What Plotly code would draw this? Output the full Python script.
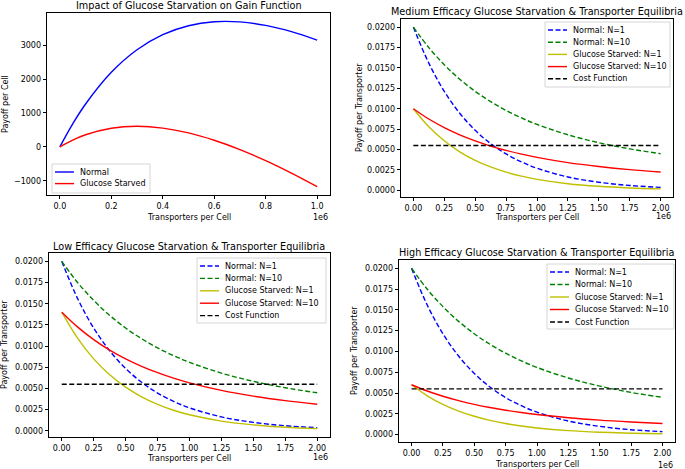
import plotly.graph_objects as go

# ---------------- data ----------------
# Panel 1: gain function (x in units of 1e6 transporters per cell)
gain_x = [0, 0.05, 0.1, 0.2, 0.3, 0.4, 0.5, 0.6, 0.7, 0.8, 0.9, 1.0]
gain_normal = [0, 677, 1263, 2197, 2862, 3307, 3571, 3688, 3684, 3581, 3397, 3147]
gain_starved = [0, 201, 356, 548, 606, 553, 411, 194, -83, -409, -777, -1177]

# Panels 2-4: payoff per transporter (x in units of 1e6)
eq_x = [0, 0.125, 0.25, 0.375, 0.5, 0.625, 0.75, 0.875, 1.0, 1.25, 1.5, 1.75, 2.0]
normal_n1 = [0.02, 0.01558, 0.01213, 0.00945, 0.00736, 0.00573, 0.00446, 0.00348,
             0.00271, 0.00164, 0.00100, 0.00060, 0.00037]
normal_n10 = [0.02, 0.01748, 0.01539, 0.01362, 0.01213, 0.01087, 0.00979, 0.00887,
              0.00808, 0.00681, 0.00584, 0.00508, 0.00449]

medium_n1 = [0.01, 0.00779, 0.00607, 0.00472, 0.00368, 0.00287, 0.00223, 0.00174,
             0.00135, 0.00082, 0.00050, 0.00030, 0.00018]
medium_n10 = [0.01, 0.00874, 0.00769, 0.00681, 0.00607, 0.00543, 0.00490, 0.00444,
              0.00404, 0.00340, 0.00292, 0.00254, 0.00225]

low_n1 = [0.014, 0.01090, 0.00849, 0.00661, 0.00515, 0.00401, 0.00312, 0.00243,
          0.00189, 0.00115, 0.00070, 0.00042, 0.00026]
low_n10 = [0.014, 0.01224, 0.01077, 0.00953, 0.00849, 0.00761, 0.00686, 0.00621,
           0.00566, 0.00477, 0.00409, 0.00356, 0.00314]

high_n1 = [0.006, 0.00467, 0.00364, 0.00283, 0.00221, 0.00172, 0.00134, 0.00104,
           0.00081, 0.00049, 0.00030, 0.00018, 0.00011]
high_n10 = [0.006, 0.00525, 0.00462, 0.00409, 0.00364, 0.00326, 0.00294, 0.00266,
            0.00243, 0.00204, 0.00175, 0.00153, 0.00135]

cost_x = [0, 2.0]
cost_y = [0.0055, 0.0055]

gain_xticks = [0, 0.2, 0.4, 0.6, 0.8, 1.0]
gain_yticks = [-1000, 0, 1000, 2000, 3000]
eq_xticks = [0, 0.25, 0.5, 0.75, 1.0, 1.25, 1.5, 1.75, 2.0]
eq_yticks = [0, 0.0025, 0.005, 0.0075, 0.01, 0.0125, 0.015, 0.0175, 0.02]

titles = [
    "Impact of Glucose Starvation on Gain Function",
    "Medium Efficacy Glucose Starvation & Transporter Equilibria",
    "Low Efficacy Glucose Starvation & Transporter Equilibria",
    "High Efficacy Glucose Starvation & Transporter Equilibria",
]
gain_names = ["Normal", "Glucose Starved"]
eq_names = ["Normal: N=1", "Normal: N=10", "Glucose Starved: N=1",
            "Glucose Starved: N=10", "Cost Function"]

# ---------------- styling ----------------
W, H = 685, 469
FONT = "DejaVu Sans"
LW = 1.4
DASH = "5px,2.5px"
BLUE, GREEN, YEL, RED, BLACK = "#0000ff", "#008000", "#bfbf00", "#ff0000", "#000000"


def px(x):
    return x / W


def py(y):
    return 1 - y / H


# axes boxes in pixels: (left, top, right, bottom)
boxes = [
    (47, 13, 330, 195),
    (401, 19, 673, 197),
    (49, 253, 330, 437),
    (399, 260, 675, 442),
]

fig = go.Figure()

# Panel 1
fig.add_trace(go.Scatter(x=gain_x, y=gain_normal, mode="lines", name=gain_names[0],
                         line=dict(color=BLUE, width=LW, shape="spline"),
                         xaxis="x", yaxis="y", showlegend=False))
fig.add_trace(go.Scatter(x=gain_x, y=gain_starved, mode="lines", name=gain_names[1],
                         line=dict(color=RED, width=LW, shape="spline"),
                         xaxis="x", yaxis="y", showlegend=False))

eq_styles = [(BLUE, DASH), (GREEN, DASH), (YEL, "solid"), (RED, "solid"), (BLACK, DASH)]
panels = [(medium_n1, medium_n10), (low_n1, low_n10), (high_n1, high_n10)]
for i, (s1, s10) in enumerate(panels):
    ax = str(i + 2)
    series = [(eq_x, normal_n1), (eq_x, normal_n10), (eq_x, s1), (eq_x, s10), (cost_x, cost_y)]
    for (xs, ys), name, (col, dash) in zip(series, eq_names, eq_styles):
        fig.add_trace(go.Scatter(x=xs, y=ys, name=name, mode="lines",
                                 line=dict(color=col, width=LW, dash=dash,
                                           shape="spline" if len(xs) > 2 else "linear"),
                                 xaxis="x" + ax, yaxis="y" + ax, showlegend=False))

tickfont = dict(family=FONT, size=8, color="#000000")
axis_common = dict(showline=True, mirror=True, linecolor="#000000", linewidth=0.8,
                   ticks="outside", ticklen=3.5, tickwidth=0.8, tickcolor="#000000",
                   showgrid=False, zeroline=False, tickfont=tickfont)

layout = dict(
    width=W, height=H, margin=dict(l=0, r=0, t=0, b=0),
    paper_bgcolor="white", plot_bgcolor="white",
    font=dict(family=FONT, size=8, color="#000000"),
    showlegend=False,
)

y_ranges = [[-1421, 3947], [-0.00081, 0.02099], [-0.00073, 0.020987], [-0.00088, 0.020995]]
for i, (l, t, r, b) in enumerate(boxes):
    sfx = "" if i == 0 else str(i + 1)
    if i == 0:
        xa = dict(domain=[px(l), px(r)], range=[-0.05, 1.05], tickvals=gain_xticks,
                  tickformat=".1f", anchor="y")
        ya = dict(domain=[py(b), py(t)], range=y_ranges[0], tickvals=gain_yticks,
                  tickformat="d", anchor="x")
    else:
        xa = dict(domain=[px(l), px(r)], range=[-0.1, 2.1], tickvals=eq_xticks,
                  tickformat=".2f", anchor="y" + sfx)
        ya = dict(domain=[py(b), py(t)], range=y_ranges[i], tickvals=eq_yticks,
                  tickformat=".4f", anchor="x" + sfx)
    xa.update(axis_common)
    ya.update(axis_common)
    layout["xaxis" + sfx] = xa
    layout["yaxis" + sfx] = ya

fig.update_layout(**layout)

# ---------------- text: titles, axis labels, exponent labels ----------------
title_y = [5, 11, 247, 252]
xlabel_y = [218, 217, 458, 464]
ylabel_x = [5, 359, 4, 354]
ylabels = ["Payoff per Cell", "Payoff per Transporter", "Payoff per Transporter",
           "Payoff per Transporter"]
exp_y = [218, 216, 457, 465]
annotations = []
shapes = []
for i, (l, t, r, b) in enumerate(boxes):
    cx = (l + r) / 2
    cy = (t + b) / 2
    annotations.append(dict(text=titles[i], x=px(cx), y=py(title_y[i]), xref="paper", yref="paper",
                            xanchor="center", yanchor="middle", showarrow=False,
                            font=dict(family=FONT, size=9.7, color="#000000")))
    annotations.append(dict(text="Transporters per Cell", x=px(cx), y=py(xlabel_y[i]),
                            xref="paper", yref="paper", xanchor="center", yanchor="middle",
                            showarrow=False, font=dict(family=FONT, size=8, color="#000000")))
    annotations.append(dict(text=ylabels[i], x=px(ylabel_x[i]), y=py(cy), xref="paper",
                            yref="paper", xanchor="center", yanchor="middle", textangle=-90,
                            showarrow=False, font=dict(family=FONT, size=8, color="#000000")))
    annotations.append(dict(text="1e6", x=px(r), y=py(exp_y[i]), xref="paper", yref="paper",
                            xanchor="right", yanchor="middle", showarrow=False,
                            font=dict(family=FONT, size=8, color="#000000")))

# ---------------- matplotlib-style legends (compact) ----------------
# legend boxes in pixels: (left, top, right, bottom, row spacing)
legend_boxes = [
    (52, 164, 150, 193, 11.6),
    (545, 22, 670, 87, 12.2),
    (197, 258, 326, 323, 12.4),
    (547, 264, 674, 329, 12.5),
]
legend_items = [
    list(zip(gain_names, [(BLUE, "solid"), (RED, "solid")])),
    list(zip(eq_names, eq_styles)),
    list(zip(eq_names, eq_styles)),
    list(zip(eq_names, eq_styles)),
]
for (l, t, r, b, sp), items in zip(legend_boxes, legend_items):
    shapes.append(dict(type="rect", xref="paper", yref="paper", layer="above",
                       x0=px(l), x1=px(r), y0=py(b), y1=py(t),
                       fillcolor="rgba(255,255,255,0.8)",
                       line=dict(color="#cccccc", width=0.8)))
    for k, (name, (col, dash)) in enumerate(items):
        yy = t + 8 + k * sp
        shapes.append(dict(type="line", xref="paper", yref="paper", layer="above",
                           x0=px(l + 3), x1=px(l + 22), y0=py(yy), y1=py(yy),
                           line=dict(color=col, width=LW, dash=dash)))
        annotations.append(dict(text=name, x=px(l + 26), y=py(yy), xref="paper", yref="paper",
                                xanchor="left", yanchor="middle", showarrow=False,
                                font=dict(family=FONT, size=8, color="#000000")))

fig.update_layout(annotations=annotations, shapes=shapes)

fig.write_html("out.html",
               config={"displayModeBar": False},
               post_script="document.body.style.margin='0px';document.body.style.overflow='hidden';")
